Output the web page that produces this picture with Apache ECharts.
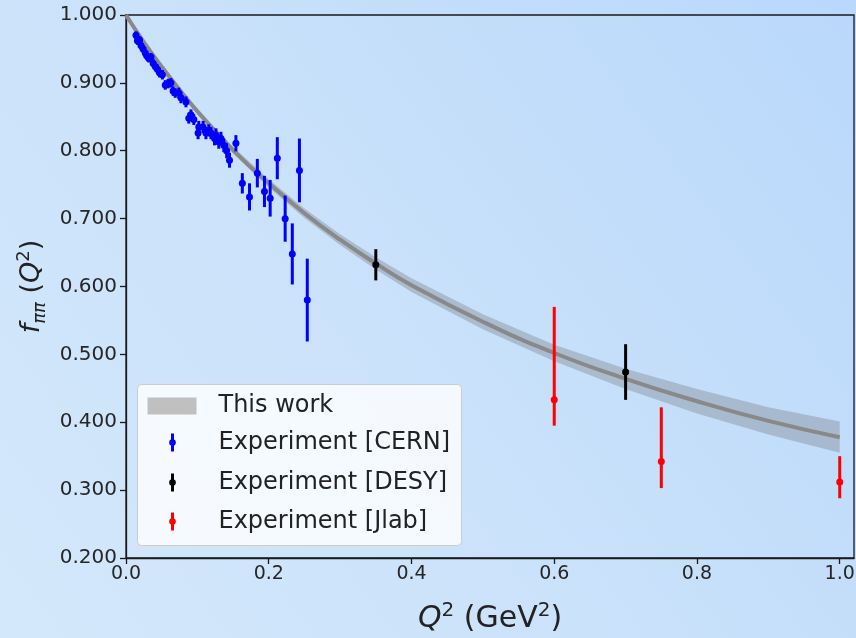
<!DOCTYPE html>
<html>
<head>
<meta charset="utf-8">
<script src="https://cdn.jsdelivr.net/npm/echarts@6/dist/echarts.min.js"></script>
<style>
html, body { margin: 0; padding: 0; }
#main { width: 856px; height: 638px; }
</style>
</head>
<body>
<div id="main"></div>
<script>
// model band
var bandX    = [0, 0.025, 0.05, 0.075, 0.1, 0.15, 0.2, 0.25, 0.3, 0.35, 0.4, 0.5, 0.6, 0.7, 0.8, 0.9, 1.0];
var bandMid  = [1.000, 0.960, 0.924, 0.890, 0.858, 0.801, 0.752, 0.708, 0.669, 0.634, 0.602, 0.548, 0.502, 0.464, 0.431, 0.402, 0.378];
var bandHigh = [1.000, 0.961, 0.926, 0.893, 0.862, 0.806, 0.758, 0.715, 0.677, 0.643, 0.612, 0.559, 0.514, 0.479, 0.449, 0.422, 0.401];
var bandLow  = [1.000, 0.959, 0.922, 0.887, 0.854, 0.796, 0.746, 0.701, 0.661, 0.625, 0.592, 0.537, 0.490, 0.449, 0.413, 0.382, 0.355];

// CERN
var cernX = [0.014, 0.016, 0.019, 0.021, 0.024, 0.027, 0.029, 0.032, 0.035, 0.038, 0.041, 0.044, 0.047, 0.051,
             0.055, 0.059, 0.063, 0.066, 0.069, 0.074, 0.077, 0.084, 0.088, 0.091, 0.095, 0.101, 0.102, 0.108,
             0.112, 0.116, 0.119, 0.124, 0.126, 0.130, 0.133, 0.137, 0.141, 0.145, 0.154,
             0.163, 0.173, 0.184, 0.194, 0.202, 0.212, 0.223, 0.233, 0.243, 0.254];
var cernY = [0.970, 0.962, 0.963, 0.955, 0.950, 0.944, 0.940, 0.936, 0.938, 0.929, 0.924, 0.920, 0.915, 0.912,
             0.897, 0.899, 0.900, 0.888, 0.885, 0.885, 0.878, 0.872, 0.848, 0.853, 0.846, 0.826, 0.835, 0.835,
             0.826, 0.830, 0.826, 0.818, 0.823, 0.813, 0.818, 0.808, 0.800, 0.786, 0.811,
             0.752, 0.732, 0.767, 0.740, 0.730, 0.789, 0.700, 0.648, 0.771, 0.580];
var cernErr = [0.006, 0.006, 0.006, 0.006, 0.006, 0.006, 0.006, 0.006, 0.006, 0.006, 0.006, 0.007, 0.007, 0.007,
               0.007, 0.007, 0.007, 0.007, 0.007, 0.008, 0.008, 0.008, 0.008, 0.008, 0.008, 0.009, 0.009, 0.009,
               0.009, 0.009, 0.009, 0.010, 0.010, 0.010, 0.010, 0.010, 0.011, 0.011, 0.012,
               0.015, 0.020, 0.021, 0.023, 0.027, 0.031, 0.034, 0.045, 0.047, 0.061];

// DESY
var desyX = [0.35, 0.70];
var desyY = [0.632, 0.474];
var desyErr = [0.023, 0.041];

// Jlab (asymmetric)
var jlabX = [0.60, 0.75, 1.00];
var jlabY = [0.433, 0.342, 0.312];
var jlabUp = [0.137, 0.080, 0.038];
var jlabDown = [0.038, 0.039, 0.024];

var yTicks = ['0.200', '0.300', '0.400', '0.500', '0.600', '0.700', '0.800', '0.900', '1.000'];
var xTicks = ['0.0', '0.2', '0.4', '0.6', '0.8', '1.0'];

var myChart = echarts.init(document.getElementById('main'));

function errData(xs, ys, up, down) {
    return xs.map(function (x, i) { return [x, ys[i], ys[i] - down[i], ys[i] + up[i]]; });
}

function errRender(color) {
    return function (params, api) {
        var c = api.coord([api.value(0), api.value(1)]);
        var lo = api.coord([api.value(0), api.value(2)]);
        var hi = api.coord([api.value(0), api.value(3)]);
        return {
            type: 'group',
            children: [
                { type: 'line', shape: { x1: lo[0], y1: lo[1], x2: hi[0], y2: hi[1] }, style: { stroke: color, lineWidth: 3 } },
                { type: 'circle', shape: { cx: c[0], cy: c[1], r: 3.5 }, style: { fill: color } }
            ]
        };
    };
}

var font = 'DejaVu Sans';

var option = {
    backgroundColor: {
        type: 'linear', x: 1, y: 0, x2: 0, y2: 1,
        colorStops: [{ offset: 0, color: '#b9d8fb' }, { offset: 0.5, color: '#c9e1fa' }, { offset: 1, color: '#d4e8fb' }]
    },
    animation: false,
    grid: {
        left: 126, right: 2, top: 15, bottom: 80, containLabel: false, outerBoundsMode: 'none',
        show: true, borderColor: '#1a1a1a', borderWidth: 1.3, backgroundColor: 'transparent'
    },
    xAxis: {
        type: 'value', min: 0, max: 1.02, interval: 0.2,
        axisLine: { lineStyle: { color: '#1a1a1a', width: 1.3 } },
        axisTick: { length: 6, lineStyle: { color: '#1a1a1a', width: 1.3 } },
        splitLine: { show: false },
        axisLabel: {
            showMaxLabel: false, margin: 7, fontFamily: font, fontSize: 19, color: '#262626',
            formatter: function (v) { var k = Math.round(v / 0.2); return Math.abs(v - k * 0.2) < 1e-6 ? xTicks[k] : ''; }
        },
        name: '{i|Q}{sup|2} (GeV{sup|2})',
        nameLocation: 'middle', nameGap: 43,
        nameTextStyle: {
            fontFamily: font, fontSize: 30, color: '#222', lineHeight: 36,
            rich: {
                i: { fontFamily: font, fontSize: 30, fontStyle: 'italic', color: '#222', lineHeight: 36 },
                sup: { fontFamily: font, fontSize: 20, color: '#222', verticalAlign: 'top', lineHeight: 36 }
            }
        }
    },
    yAxis: {
        type: 'value', min: 0.2, max: 1.0, interval: 0.1,
        axisLine: { show: true, lineStyle: { color: '#1a1a1a', width: 1.3 } },
        axisTick: { show: true, length: 6, lineStyle: { color: '#1a1a1a', width: 1.3 } },
        splitLine: { show: false },
        axisLabel: {
            margin: 9, fontFamily: font, fontSize: 20, color: '#262626',
            formatter: function (v) { return yTicks[Math.round((v - 0.2) / 0.1)]; }
        },
        name: '{i|f}{sub|ππ} ({i|Q}{sup|2})',
        nameLocation: 'middle', nameGap: 68, nameRotate: 90,
        nameTextStyle: {
            fontFamily: font, fontSize: 27, color: '#222', lineHeight: 34,
            rich: {
                i: { fontFamily: font, fontSize: 27, fontStyle: 'italic', color: '#222', lineHeight: 34 },
                sub: { fontFamily: font, fontSize: 18, fontStyle: 'italic', color: '#222', verticalAlign: 'bottom', lineHeight: 34 },
                sup: { fontFamily: font, fontSize: 18, color: '#222', verticalAlign: 'top', lineHeight: 34 }
            }
        }
    },
    series: [
        {
            name: 'This work',
            type: 'custom',
            clip: true,
            z: 1,
            data: [[0]],
            renderItem: function (params, api) {
                var pts = [];
                for (var i = 0; i < bandX.length; i++) pts.push(api.coord([bandX[i], bandHigh[i]]));
                for (var j = bandX.length - 1; j >= 0; j--) pts.push(api.coord([bandX[j], bandLow[j]]));
                return { type: 'polygon', shape: { points: pts }, style: { fill: 'rgba(128,132,140,0.4)' } };
            }
        },
        {
            name: 'This work line',
            type: 'line',
            clip: true,
            z: 2,
            smooth: true,
            symbol: 'none',
            lineStyle: { color: '#898989', width: 4 },
            data: bandX.map(function (x, i) { return [x, bandMid[i]]; })
        },
        {
            name: 'Experiment [CERN]', type: 'custom', z: 5, clip: false,
            renderItem: errRender('#0000ff'),
            data: errData(cernX, cernY, cernErr, cernErr)
        },
        {
            name: 'Experiment [DESY]', type: 'custom', z: 5, clip: false,
            renderItem: errRender('#000000'),
            data: errData(desyX, desyY, desyErr, desyErr)
        },
        {
            name: 'Experiment [Jlab]', type: 'custom', z: 5, clip: false,
            renderItem: errRender('#ff0000'),
            data: errData(jlabX, jlabY, jlabUp, jlabDown)
        }
    ],
    graphic: [
        {
            type: 'group', left: 137, top: 384, z: 100,
            children: [
                { type: 'rect', shape: { x: 0, y: 0, width: 324, height: 161, r: 4 }, style: { fill: 'rgba(255,255,255,0.8)', stroke: '#cccccc', lineWidth: 1 } },
                { type: 'rect', shape: { x: 10, y: 13, width: 49, height: 17 }, style: { fill: '#c0c0c0' } },
                { type: 'line', shape: { x1: 35, y1: 49, x2: 35, y2: 67 }, style: { stroke: '#0000ff', lineWidth: 3 } },
                { type: 'circle', shape: { cx: 35, cy: 58, r: 3.3 }, style: { fill: '#0000ff' } },
                { type: 'line', shape: { x1: 35, y1: 89, x2: 35, y2: 107 }, style: { stroke: '#000000', lineWidth: 3 } },
                { type: 'circle', shape: { cx: 35, cy: 98, r: 3.3 }, style: { fill: '#000000' } },
                { type: 'line', shape: { x1: 35, y1: 128, x2: 35, y2: 146 }, style: { stroke: '#ff0000', lineWidth: 3 } },
                { type: 'circle', shape: { cx: 35, cy: 137, r: 3.3 }, style: { fill: '#ff0000' } },
                { type: 'text', x: 81, y: 21, style: { text: 'This work', fontFamily: font, fontSize: 24, fill: '#222', verticalAlign: 'middle' } },
                { type: 'text', x: 81, y: 58, style: { text: 'Experiment [CERN]', fontFamily: font, fontSize: 24, fill: '#222', verticalAlign: 'middle' } },
                { type: 'text', x: 81, y: 98, style: { text: 'Experiment [DESY]', fontFamily: font, fontSize: 24, fill: '#222', verticalAlign: 'middle' } },
                { type: 'text', x: 81, y: 137, style: { text: 'Experiment [Jlab]', fontFamily: font, fontSize: 24, fill: '#222', verticalAlign: 'middle' } }
            ]
        }
    ]
};

myChart.setOption(option);
</script>
</body>
</html>
